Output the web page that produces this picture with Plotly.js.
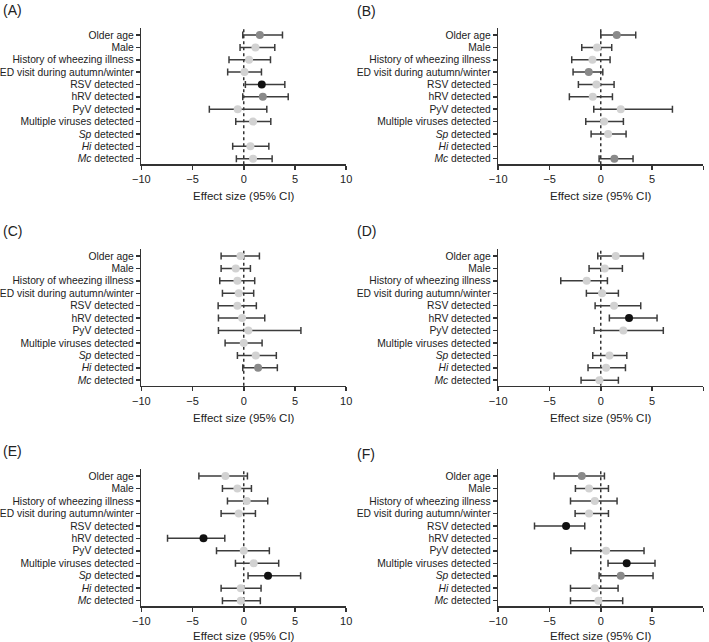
<!DOCTYPE html>
<html>
<head>
<meta charset="utf-8">
<script src="https://cdn.plot.ly/plotly-3.0.1.min.js"></script>
<style>html,body{margin:0;padding:0;background:#fff;}#chart{width:709px;height:642px;}</style>
</head>
<body>
<div id="chart"></div>
<script>
// Categories (top to bottom)
const categories = [
  "Older age", "Male", "History of wheezing illness", "ED visit during autumn/winter",
  "RSV detected", "hRV detected", "PyV detected", "Multiple viruses detected",
  "<i>Sp</i> detected", "<i>Hi</i> detected", "<i>Mc</i> detected"
];
const panelLabels = ["(A)", "(B)", "(C)", "(D)", "(E)", "(F)"];
const xTickVals = [-10, -5, 0, 5, 10];
const xTitle = "Effect size (95% CI)";

// Estimates, lower and upper CI limits, and significance group (0 light, 1 mid, 2 dark)
const estA = [1.57, 1.14, 0.52, 0.07, 1.76, 1.86, -0.59, 0.91, null, 0.65, 0.91];
const loA  = [-0.10, -0.36, -1.44, -1.57, 0.16, -0.10, -3.36, -0.78, null, -1.08, -0.72];
const hiA  = [3.78, 3.03, 2.61, 1.73, 4.01, 4.34, 2.25, 2.64, null, 2.45, 2.77];
const grpA = [1, 0, 0, 0, 2, 1, 0, 0, 0, 0, 0];

const estB = [1.56, -0.36, -0.81, -1.17, -0.42, -0.78, 1.95, 0.33, 0.72, null, 1.33];
const loB  = [0.00, -1.85, -2.83, -2.70, -2.18, -3.06, -0.68, -1.46, -0.94, null, -0.16];
const hiB  = [3.41, 1.07, 0.91, 0.20, 1.30, 1.14, 6.99, 2.21, 2.47, null, 3.15];
const grpB = [1, 0, 0, 1, 0, 0, 0, 0, 0, 0, 1];

const estC = [-0.32, -0.78, -0.62, -0.49, -0.62, -0.16, 0.45, 0.00, 1.17, 1.40, null];
const loC  = [-2.21, -2.21, -2.34, -2.08, -2.50, -2.47, -2.47, -1.82, -0.62, -0.10, null];
const hiC  = [1.53, 0.65, 1.07, 0.97, 1.23, 2.05, 5.58, 1.79, 3.18, 3.28, null];
const grpC = [0, 0, 0, 0, 0, 0, 0, 0, 0, 1, 0];

const estD = [1.46, 0.39, -1.37, 0.13, 1.30, 2.76, 2.20, null, 0.85, 0.52, -0.13];
const loD  = [-0.29, -1.14, -3.90, -1.40, -0.55, 0.84, -0.65, null, -0.78, -1.24, -1.92];
const hiD  = [4.16, 2.11, 0.65, 1.72, 3.90, 5.49, 6.10, null, 2.54, 2.41, 1.72];
const grpD = [0, 0, 0, 0, 0, 2, 0, 0, 0, 0, 0];

const estE = [-1.79, -0.62, 0.29, -0.49, null, -3.93, 0.00, 0.97, 2.37, -0.29, -0.29];
const loE  = [-4.38, -2.08, -1.59, -2.21, null, -7.44, -2.66, -0.81, 0.42, -2.21, -2.08];
const hiE  = [0.36, 0.75, 2.34, 1.14, null, -1.85, 2.50, 3.41, 5.55, 1.69, 1.62];
const grpE = [0, 0, 0, 0, 0, 2, 0, 0, 2, 0, 0];

const estF = [-1.85, -1.14, -0.58, -1.14, -3.38, null, 0.52, 2.53, 1.95, -0.58, -0.23];
const loF  = [-4.55, -2.47, -2.95, -2.50, -6.46, null, -2.92, 0.71, -0.16, -2.95, -2.95];
const hiF  = [0.36, 0.75, 1.59, 0.75, -1.56, null, 4.22, 5.29, 5.10, 1.69, 2.14];
const grpF = [1, 0, 0, 0, 2, 0, 0, 2, 1, 0, 0];

const panels = [
  {est: estA, lo: loA, hi: hiA, grp: grpA},
  {est: estB, lo: loB, hi: hiB, grp: grpB},
  {est: estC, lo: loC, hi: hiC, grp: grpC},
  {est: estD, lo: loD, hi: hiD, grp: grpD},
  {est: estE, lo: loE, hi: hiE, grp: grpE},
  {est: estF, lo: loF, hi: hiF, grp: grpF}
];

const groupColors = ["#d2d2d2", "#8a8a8a", "#111111"];
const FONT = "Liberation Sans, Arial, Helvetica, sans-serif";
const axisColor = "#333333";

const W = 709, H = 642;
const colX = [[141.3, 346.2], [498.2, 703.3]];
const rowY = [[28.2, 164.3], [249.2, 385.8], [469.2, 606.3]];
const labelPos = [[1, 10], [355, 11], [1, 231], [355, 231], [1, 451], [355, 454]];

const yIdx = categories.map((_, i) => i);
const traces = [];
const layout = {
  width: W, height: H,
  margin: {l: 0, r: 0, t: 0, b: 0},
  paper_bgcolor: "#fff", plot_bgcolor: "#fff",
  showlegend: false,
  font: {family: FONT, size: 10, color: "#222"},
  shapes: [], annotations: []
};

panels.forEach((p, k) => {
  const n = k + 1;
  const xa = n === 1 ? "x" : "x" + n;
  const ya = n === 1 ? "y" : "y" + n;
  const col = k % 2, row = Math.floor(k / 2);
  traces.push({
    type: "scatter", mode: "markers",
    x: p.est, y: yIdx, xaxis: xa, yaxis: ya,
    marker: {size: 8, color: p.grp.map(g => groupColors[g]), line: {width: 0}},
    error_x: {
      type: "data", symmetric: false,
      array: p.est.map((e, i) => e === null ? null : p.hi[i] - e),
      arrayminus: p.est.map((e, i) => e === null ? null : e - p.lo[i]),
      color: "#3c3c3c", thickness: 1.5, width: 3.5
    },
    hoverinfo: "skip", cliponaxis: false
  });
  const xKey = n === 1 ? "xaxis" : "xaxis" + n;
  const yKey = n === 1 ? "yaxis" : "yaxis" + n;
  layout[xKey] = {
    domain: [colX[col][0] / W, colX[col][1] / W],
    anchor: ya, range: [-10, 10],
    tickvals: xTickVals, ticktext: xTickVals.map(v => v < 0 ? "\u2212" + Math.abs(v) : String(v)),
    ticks: "outside", ticklen: 4, tickwidth: 1.5, tickcolor: axisColor,
    showline: true, linecolor: axisColor, linewidth: 1.5,
    showgrid: false, zeroline: false,
    tickfont: {family: FONT, size: 11, color: "#222"},
    title: {text: xTitle, font: {family: FONT, size: 11.5, color: "#222"}, standoff: 8},
    fixedrange: true
  };
  layout[yKey] = {
    domain: [1 - rowY[row][1] / H, 1 - rowY[row][0] / H],
    anchor: xa, range: [10.45, -0.55],
    tickvals: yIdx, ticktext: categories,
    ticks: "outside", ticklen: 4, tickwidth: 1.5, tickcolor: axisColor,
    showline: true, linecolor: axisColor, linewidth: 1.5,
    showgrid: false, zeroline: false,
    tickfont: {family: FONT, size: 10.3, color: "#222"},
    fixedrange: true
  };
  layout.shapes.push({
    type: "line", xref: xa, yref: ya + " domain",
    x0: 0, x1: 0, y0: 0, y1: 1,
    line: {color: "#333", width: 1.5, dash: "dot"}, layer: "below"
  });
  layout.annotations.push({
    text: panelLabels[k], xref: "paper", yref: "paper",
    x: labelPos[k][0] / W, y: 1 - labelPos[k][1] / H,
    xanchor: "left", yanchor: "middle", showarrow: false,
    font: {family: FONT, size: 14, color: "#222"}
  });
});

Plotly.newPlot("chart", traces, layout, {displayModeBar: false, staticPlot: true});
</script>
</body>
</html>
